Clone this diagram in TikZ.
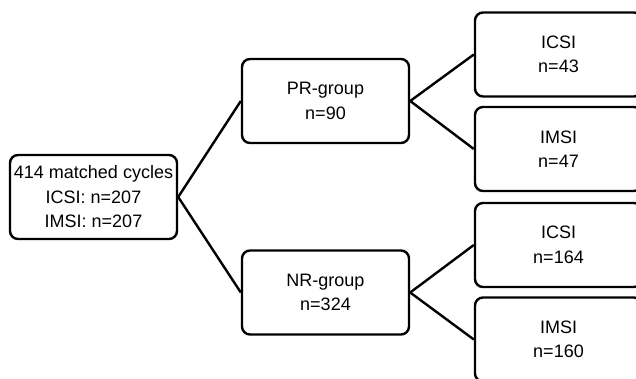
\documentclass[tikz,border=0pt]{standalone}
\usepackage{fontspec}
\setmainfont{Liberation Sans}

\begin{document}
\begin{tikzpicture}[x=1pt,y=-1pt,
		box/.style={draw,rounded corners=8pt,line width=2.4pt,minimum width=167pt,minimum height=84pt,align=center,font=\fontsize{18}{24.5}\selectfont},
		link/.style={line width=2.4pt}]
		\clip (0,0) rectangle (636,378);

		% all cycles
		\node[box] (all) at (93.5,197) {414 matched cycles\\ICSI: n=207\\IMSI: n=207};

		% groups
		\node[box] (pr) at (325.5,101) {PR-group\\n=90};
		\node[box] (nr) at (325.5,292.5) {NR-group\\n=324};

		% methods per group
		\node[box] (pricsi) at (558.5,54.5) {ICSI\\n=43};
		\node[box] (primsi) at (558.5,149) {IMSI\\n=47};
		\node[box] (nricsi) at (558.5,245) {ICSI\\n=164};
		\node[box] (nrimsi) at (558.5,339.5) {IMSI\\n=160};

		\foreach \X in {pr,nr}
			\draw[link] (all.east) -- (\X.west);
		\foreach \X in {icsi,imsi} {
			\draw[link] (pr.east) -- (pr\X.west);
			\draw[link] (nr.east) -- (nr\X.west);
		}
	\end{tikzpicture}
\end{document}
